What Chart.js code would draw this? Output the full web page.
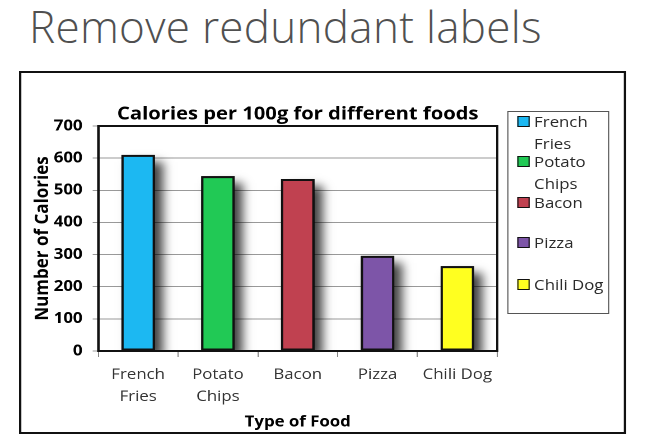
<!DOCTYPE html>
<html>
<head>
<meta charset="utf-8">
<script src="https://cdn.jsdelivr.net/npm/chart.js@4.4.1/dist/chart.umd.min.js"></script>
<style>
  html, body { margin: 0; padding: 0; background: #fff; width: 645px; height: 446px; overflow: hidden; }
  #heading { position: absolute; left: 29px; top: 4px; font-family: "Open Sans", sans-serif; font-weight: 300; font-size: 44px; line-height: 44px; letter-spacing: 0.3px; color: #505050; white-space: nowrap; }
  #frame { position: absolute; left: 19px; top: 71px; border: 2px solid #111; box-sizing: border-box; transform-origin: 0 0; }
  #legend { position: absolute; border: 1px solid #555; box-sizing: border-box; background: #fff; font-family: "Open Sans", sans-serif; font-size: 15px; color: #2a2a2a; }
  .item { position: absolute; left: 0; right: 0; }
  .mark { position: absolute; width: 9px; height: 9px; border: 1px solid #111; }
  .txt { position: absolute; line-height: 22px; white-space: nowrap; }
</style>
</head>
<body>
<div id="heading">Remove redundant labels</div>
<div id="frame">
  <canvas id="c"></canvas>
  <div id="legend"></div>
</div>
<script>
// ---- data ----
const chartTitle = 'Calories per 100g for different foods';
const xAxisTitle = 'Type of Food';
const yAxisTitle = 'Number of Calories';
const categories = ['French Fries', 'Potato Chips', 'Bacon', 'Pizza', 'Chili Dog'];
const tickLabels = [['French', 'Fries'], ['Potato', 'Chips'], ['Bacon'], ['Pizza'], ['Chili Dog']];
const calories = [610, 544, 535, 296, 264];
const barColors = ['#1cb8f2', '#21c955', '#c04150', '#7d55a8', '#ffff20'];
const yMin = 0, yMax = 700, yStep = 100;

// ---- layout (horizontal stretch of the chart image) ----
const K = 1.12;
const frameW = 607 / K, frameH = 363;
const canvasW = Math.round(frameW - 4), canvasH = frameH - 4;
const frame = document.getElementById('frame');
frame.style.width = frameW + 'px';
frame.style.height = frameH + 'px';
frame.style.transform = 'scaleX(' + K + ')';
const cv = document.getElementById('c');
cv.width = canvasW; cv.height = canvasH;
cv.style.width = canvasW + 'px'; cv.style.height = canvasH + 'px';

const plotLeft = (98 - 21) / K, plotRight = (497 - 21) / K;
const plotTop = 53, plotBottom = 278;

// legend (html)
const legend = document.getElementById('legend');
legend.style.left = ((507 - 19) / K - 2) + 'px';
legend.style.top = (111 - 73) + 'px';
legend.style.width = ((609 - 507) / K) + 'px';
legend.style.height = (314 - 111) + 'px';
const itemTops = [9, 49, 90, 130, 172];
categories.forEach((name, i) => {
  const it = document.createElement('div');
  it.className = 'item';
  it.style.top = (itemTops[i] - 11) + 'px';
  const m = document.createElement('div');
  m.className = 'mark';
  m.style.left = (9 / K) + 'px';
  m.style.top = '6px';
  m.style.background = barColors[i];
  it.appendChild(m);
  const t = document.createElement('div');
  t.className = 'txt';
  t.style.left = (26 / K) + 'px';
  t.style.top = '0px';
  t.innerHTML = tickLabels[i].join('<br>');
  it.appendChild(t);
  legend.appendChild(it);
});

const shadowPlugin = {
  id: 'shadowAndBorder',
  beforeDatasetsDraw(chart) {
    const ctx = chart.ctx, r = chart.currentDevicePixelRatio || 1;
    const a = chart.chartArea;
    const meta = chart.getDatasetMeta(0);
    ctx.save();
    ctx.beginPath();
    ctx.rect(a.left, a.top, a.right - a.left, a.bottom - a.top);
    ctx.clip();
    ctx.shadowColor = 'rgba(0,0,0,0.75)';
    ctx.shadowBlur = 9 * r;
    ctx.shadowOffsetX = 7 * r;
    ctx.shadowOffsetY = 7 * r;
    ctx.fillStyle = '#000';
    meta.data.forEach(bar => {
      const p = bar.getProps(['x', 'y', 'base', 'width'], true);
      ctx.fillRect(p.x - p.width / 2, p.y, p.width, p.base - p.y);
    });
    ctx.restore();
  },
  afterDatasetsDraw(chart) {
    const ctx = chart.ctx;
    const a = chart.chartArea;
    ctx.save();
    ctx.strokeStyle = '#111';
    ctx.lineWidth = 2;
    ctx.strokeRect(a.left, a.top, a.right - a.left, a.bottom - a.top);
    ctx.restore();
  }
};

Chart.defaults.font.family = '"Open Sans", sans-serif';
new Chart(cv, {
  type: 'bar',
  data: {
    labels: tickLabels,
    datasets: [{
      label: chartTitle,
      data: calories,
      backgroundColor: barColors,
      borderColor: '#111',
      borderWidth: 2,
      borderSkipped: false,
      barPercentage: 0.42,
      categoryPercentage: 1.0
    }]
  },
  options: {
    responsive: false,
    animation: false,
    devicePixelRatio: 2,
    layout: { padding: { left: 0, top: 0, bottom: 0, right: canvasW - plotRight } },
    plugins: {
      legend: { display: false },
      tooltip: { enabled: false },
      title: {
        display: true, text: chartTitle, fullSize: false, color: '#000',
        font: { size: 18, weight: 'bold' },
        padding: { top: 30.7, bottom: 0.7 }
      }
    },
    scales: {
      x: {
        grid: { display: true, drawOnChartArea: false, drawTicks: true, tickLength: 6, color: '#888', offset: true },
        border: { display: true, color: '#111', width: 2 },
        ticks: { color: '#333', font: { size: 15, lineHeight: 1.45 }, padding: 7, maxRotation: 0, autoSkip: false },
        title: { display: true, text: xAxisTitle, color: '#000', font: { size: 15, weight: 'bold' }, padding: { top: 0, bottom: 1 } },
        afterFit(s) { s.height = canvasH - plotBottom; }
      },
      y: {
        min: yMin, max: yMax,
        grid: { color: '#999', lineWidth: 1, tickLength: 5 },
        border: { display: true, color: '#111', width: 2 },
        ticks: { stepSize: yStep, color: '#000', font: { size: 15, weight: 'bold' }, padding: 9 },
        title: { display: true, text: yAxisTitle, color: '#000', font: { size: 17, weight: 'bold' }, padding: { top: 9, bottom: 0 } },
        afterFit(s) { s.width = plotLeft; }
      }
    }
  },
  plugins: [shadowPlugin]
});
</script>
</body>
</html>
